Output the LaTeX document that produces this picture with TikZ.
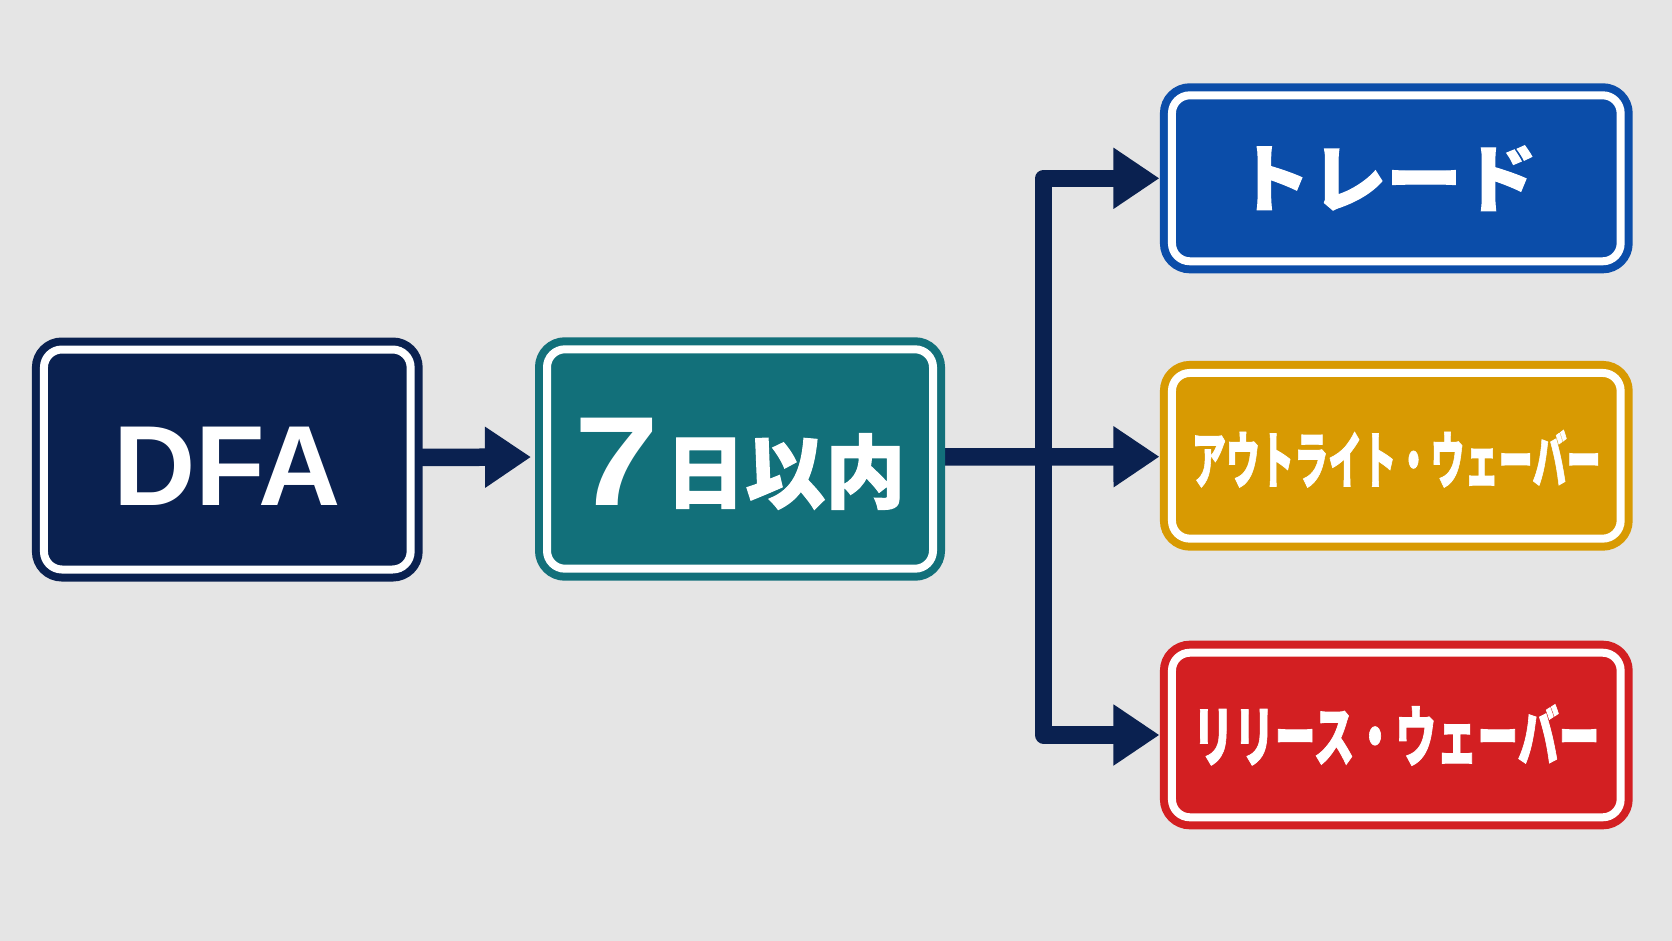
\documentclass[tikz,border=0pt]{standalone}
\usepackage{fontspec}
\setmainfont{Liberation Sans}
\newfontfamily\jpfont{Noto Sans CJK JP}
\newfontfamily\jpheavy{Noto Sans CJK JP}[FakeBold=1.5]
\usetikzlibrary{arrows.meta,backgrounds}
\definecolor{bgc}{HTML}{E5E5E5}
\definecolor{navyc}{HTML}{0A2150}
\definecolor{arrowc}{HTML}{0A2150}
\definecolor{tealc}{HTML}{12707A}
\definecolor{bluec}{HTML}{0B4DA9}
\definecolor{goldc}{HTML}{D89A02}
\definecolor{redc}{HTML}{D31F22}
\newcommand{\lowertext}[2]{\raisebox{-#1}[\height][\depth]{#2}}
\begin{document}
\begin{tikzpicture}[x=1pt,y=-1pt,
  box/.style={rounded corners=18pt, line width=8pt, double=white, double distance=8pt,
    inner sep=0pt, text=white, align=center},
  conn/.style={line width=17.5pt, draw=arrowc, line join=round,
    -{Triangle[length=46pt,width=58pt]}, shorten >=8.5pt},
]
\useasboundingbox (0,0) rectangle (1672,941);

\node[box, draw=navyc, fill=navyc, minimum width=366.7pt, minimum height=220pt,
  font=\bfseries\fontsize{114}{114}\selectfont] (dfa) at (227.3,459.5) {\lowertext{7pt}{DFA}};

\node[box, draw=tealc, fill=tealc, minimum width=386pt, minimum height=219.4pt] (seven) at (740,459)
  {\lowertext{3pt}{\lowertext{4pt}{\scalebox{1.2}[1]{\bfseries\fontsize{127}{127}\selectfont 7}}\hspace{6pt}{\jpheavy\bfseries\fontsize{80}{80}\selectfont 日以内}}};

\node[box, draw=bluec, fill=bluec, minimum width=448.7pt, minimum height=166pt,
  font=\jpheavy\bfseries\fontsize{74}{74}\selectfont] (trade) at (1396.3,178.3)
  {\hspace*{-20pt}\scalebox{1.02}[1]{トレード}};

\node[box, draw=goldc, fill=goldc, minimum width=448.7pt, minimum height=165.7pt,
  font=\jpheavy\bfseries\fontsize{62}{62}\selectfont] (outright) at (1396.3,455.8)
  {\lowertext{3pt}{\scalebox{0.55}[1]{アウトライト・ウェーバー}}};

\node[box, draw=redc, fill=redc, minimum width=448.7pt, minimum height=164.6pt,
  font=\jpheavy\bfseries\fontsize{66}{66}\selectfont] (release) at (1396.3,735)
  {\scalebox{0.62}[1]{リリース・ウェーバー}};

\coordinate (junction) at (1043.7,456.7);

\begin{scope}[on background layer]
\fill[bgc] (0,0) rectangle (1672,941);
\draw[conn, shorten >=12pt] ([yshift=2pt]dfa.east) -- ([yshift=2pt]seven.west);
\draw[conn] ([yshift=2pt]seven.east) -- (outright.west |- junction);
\draw[conn] (junction) |- (trade.west);
\draw[conn] (junction) |- (release.west);
\end{scope}
\end{tikzpicture}
\end{document}
